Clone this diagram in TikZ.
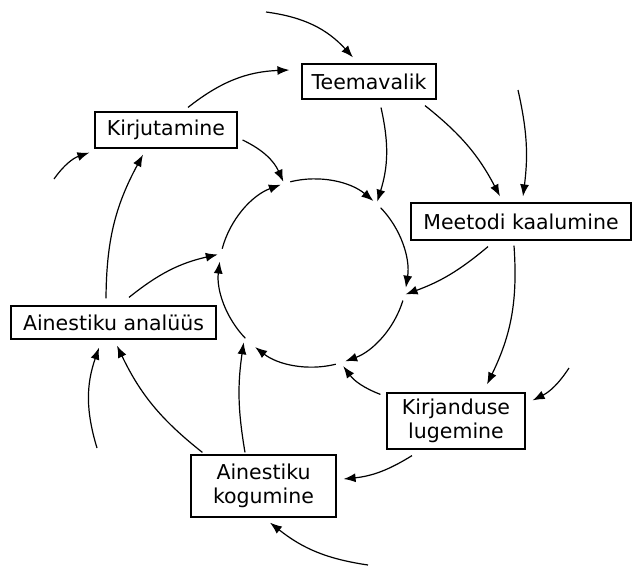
\documentclass[tikz,border=0pt]{standalone}
\usepackage{fontspec}
\setmainfont{DejaVu Sans}
\usetikzlibrary{arrows.meta,calc}
\begin{document}
\begin{tikzpicture}[x=1pt,y=1pt,
  box/.style={draw,line width=1.2pt,inner sep=2pt,align=center,
    font=\fontsize{20.5pt}{23.5pt}\selectfont},
  arr/.style={line width=1.2pt,-{Latex[length=12pt,width=9pt]}},
  ring/.style={line width=1.2pt,-{Latex[length=12pt,width=9pt]}}]
\useasboundingbox (0,0) rectangle (632,-574);
% boxes
\node[box,minimum width=134pt,minimum height=35pt] (teema) at (369,-81.5) {Teemavalik};
\node[box,minimum width=142pt,minimum height=36pt] (kirj) at (166,-130) {Kirjutamine};
\node[box,minimum width=220pt,minimum height=37pt] (meet) at (521,-221.5) {Meetodi kaalumine};
\node[box,minimum width=138pt,minimum height=56pt] (lug) at (456,-421) {Kirjanduse\\lugemine};
\node[box,minimum width=145pt,minimum height=62pt] (kog) at (263.5,-486) {Ainestiku\\kogumine};
\node[box,minimum width=205pt,minimum height=33pt] (anal) at (113.5,-322.5) {Ainestiku analüüs};
% circle
\coordinate (c) at (313,-273);
\draw[ring] ($(c)+(104:94)$) arc[start angle=104,end angle=50,radius=94];
\draw[ring] ($(c)+(44:94)$) arc[start angle=44,end angle=-9,radius=94];
\draw[ring] ($(c)+(-17:94)$) arc[start angle=-17,end angle=-70,radius=94];
\draw[ring] ($(c)+(-76:94)$) arc[start angle=-76,end angle=-128,radius=94];
\draw[ring] ($(c)+(-136:94)$) arc[start angle=-136,end angle=-187,radius=94];
\draw[ring] ($(c)+(165:94)$) arc[start angle=165,end angle=110,radius=94];
% free ends
\coordinate (f1) at (266,-12);
\coordinate (f2) at (518,-90);
\coordinate (f3) at (54,-179);
\coordinate (f4) at (569,-368);
\coordinate (f5) at (368,-565);
\coordinate (f6) at (97,-448);
% connectors
\draw[arr] (f1) to[bend left=20] ([xshift=-16pt,yshift=6pt]teema.north);
\draw[arr] ([xshift=22pt,yshift=4pt]kirj.north) to[bend left=18] ([xshift=-12pt,yshift=11.5pt]teema.west);
\draw[arr] ([xshift=12pt,yshift=-8pt]teema.south) to[bend left=15] ($(c)+(48:96)$);
\draw[arr] ([xshift=56pt,yshift=-6pt]teema.south) to[bend left=12] ([xshift=-21pt,yshift=6pt]meet.north);
\draw[arr] (f2) to[bend left=10] ([xshift=2pt,yshift=6pt]meet.north);
\draw[arr] ([xshift=5pt,yshift=-10pt]kirj.east) to[bend left=20] ($(c)+(108:96)$);
\draw[arr] (f3) to[bend left=18] ([xshift=-5pt,yshift=-4pt]kirj.south west);
\draw[arr] ([xshift=-7.5pt,yshift=7pt]anal.north) to[bend left=14] ([xshift=-23pt,yshift=-6pt]kirj.south);
\draw[arr] ([xshift=15.5pt,yshift=8pt]anal.north) to[bend left=13] ($(c)+(169:97)$);
\draw[arr] ([xshift=-33pt,yshift=-6pt]meet.south) to[bend left=10] ($(c)+(-13:95)$);
\draw[arr] ([xshift=-7pt,yshift=-5pt]meet.south) to[bend left=15] ([xshift=31pt,yshift=8pt]lug.north);
\draw[arr] (f4) to[bend left=15] ([xshift=7pt,yshift=-8pt]lug.north east);
\draw[arr] ([xshift=-6pt,yshift=-2pt]lug.north west) to[bend left=16] ($(c)+(-72:98)$);
\draw[arr] ([xshift=-44pt,yshift=-6pt]lug.south) to[bend left=13] ([xshift=7pt,yshift=7pt]kog.east);
\draw[arr] (f5) to[bend left=15] ([xshift=6.5pt,yshift=-5pt]kog.south);
\draw[arr] ([xshift=12pt,yshift=2pt]kog.north west) to[bend left=13] ([xshift=3.5pt,yshift=-6pt]anal.south);
\draw[arr] ([xshift=-18.5pt,yshift=2pt]kog.north) to[bend left=9] ($(c)+(-135:98)$);
\draw[arr] (f6) to[bend left=18] ([xshift=-14.5pt,yshift=-8pt]anal.south);
\end{tikzpicture}
\end{document}
